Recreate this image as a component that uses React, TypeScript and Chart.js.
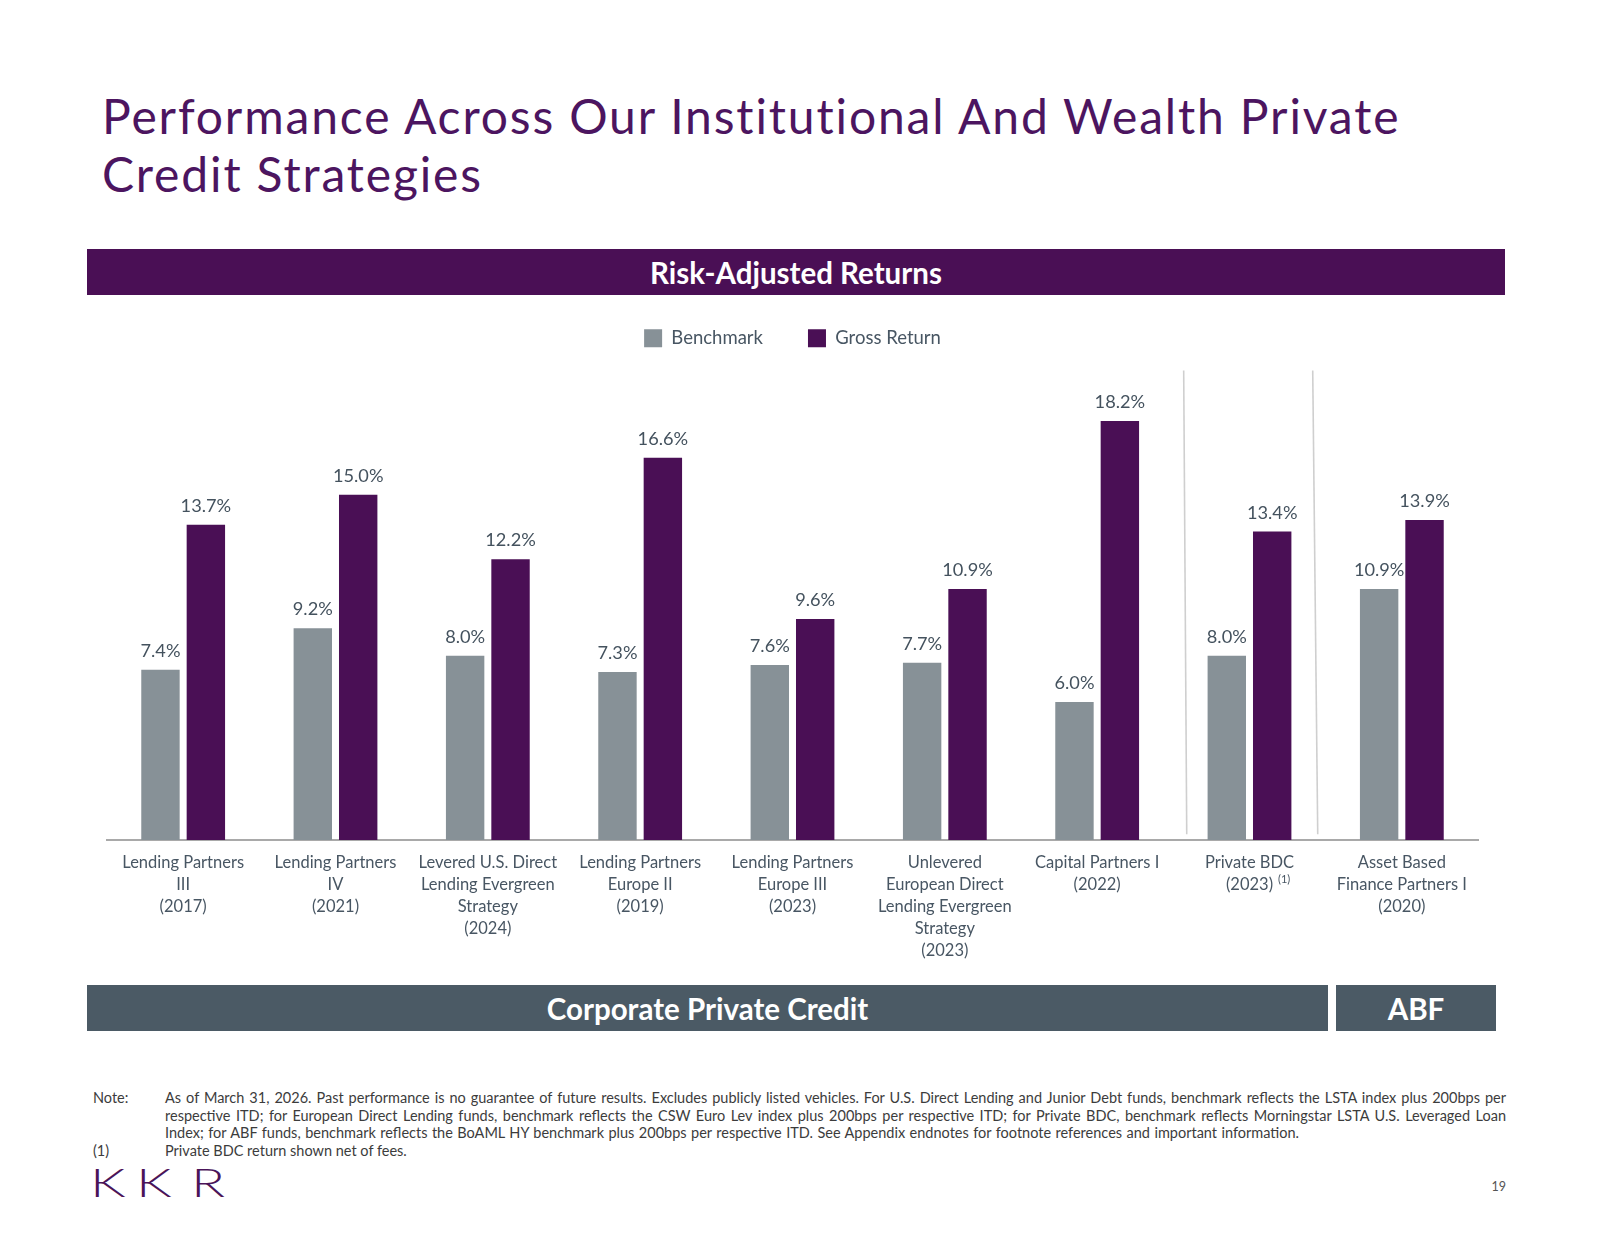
import React, { useEffect, useRef } from 'react';
import { Chart, registerables } from 'chart.js';

Chart.register(...registerables);

// ---------------- DATA ----------------
const categories: string[][] = [
  ['Lending Partners', 'III', '(2017)'],
  ['Lending Partners', 'IV', '(2021)'],
  ['Levered U.S. Direct', 'Lending Evergreen', 'Strategy', '(2024)'],
  ['Lending Partners', 'Europe II', '(2019)'],
  ['Lending Partners', 'Europe III', '(2023)'],
  ['Unlevered', 'European Direct', 'Lending Evergreen', 'Strategy', '(2023)'],
  ['Capital Partners I', '(2022)'],
  ['Private BDC', '(2023)'],
  ['Asset Based', 'Finance Partners I', '(2020)'],
];
const seriesNames = ['Benchmark', 'Gross Return'];
const benchmark = [7.4, 9.2, 8.0, 7.3, 7.6, 7.7, 6.0, 8.0, 10.9];
const grossReturn = [13.7, 15.0, 12.2, 16.6, 9.6, 10.9, 18.2, 13.4, 13.9];
const footnoteCategory = 7;
const footnoteMark = '(1)';

// ---------------- STYLE ----------------
const PURPLE = '#4a0f55';
const TITLE_PURPLE = '#4c1560';
const GRAY = '#879197';
const SLATE = '#4b5a65';
const LABEL = '#485663';
const FONT = 'Lato, "Open Sans", sans-serif';

const valueLabels = {
  id: 'valueLabels',
  afterDatasetsDraw(chart: any) {
    const ctx = chart.ctx;
    ctx.save();
    ctx.font = `18.2px ${FONT}`;
    ctx.fillStyle = '#44525e';
    ctx.textAlign = 'center';
    ctx.textBaseline = 'alphabetic';
    chart.data.datasets.forEach((ds: any, i: number) => {
      const meta = chart.getDatasetMeta(i);
      meta.data.forEach((el: any, j: number) => {
        ctx.fillText(Number(ds.data[j]).toFixed(1) + '%', el.x, el.y - 13);
      });
    });
    ctx.restore();
  },
};

// group separators (in category units): [top, bottom]
const separatorLines = [
  [6.568, 6.588],
  [7.415, 7.448],
];
const separators = {
  id: 'separators',
  beforeDatasetsDraw(chart: any) {
    const ctx = chart.ctx;
    const xs = chart.scales.x;
    const ys = chart.scales.y;
    ctx.save();
    ctx.strokeStyle = '#cfcfcf';
    ctx.lineWidth = 1.6;
    separatorLines.forEach(([t, b]) => {
      ctx.beginPath();
      ctx.moveTo(xs.getPixelForValue(t), ys.getPixelForValue(20.4));
      ctx.lineTo(xs.getPixelForValue(b), ys.getPixelForValue(0.25));
      ctx.stroke();
    });
    ctx.restore();
  },
};

const TICK_SIZE = 16.5;
const TICK_LH = 22;
const TICK_PAD = 12;
const footnote = {
  id: 'footnote',
  afterDraw(chart: any) {
    const ctx = chart.ctx;
    const xs = chart.scales.x;
    const x = xs.getPixelForValue(footnoteCategory);
    const lines = categories[footnoteCategory];
    ctx.save();
    ctx.font = `${TICK_SIZE}px ${FONT}`;
    const w = ctx.measureText(lines[lines.length - 1]).width;
    const y = xs.top + TICK_PAD + TICK_LH / 2 + TICK_LH * (lines.length - 1) - 6;
    ctx.font = `11px ${FONT}`;
    ctx.fillStyle = LABEL;
    ctx.textAlign = 'left';
    ctx.textBaseline = 'middle';
    ctx.fillText(footnoteMark, x + w / 2 + 5, y);
    ctx.restore();
  },
};

const CANVAS_LEFT = 87;
const CANVAS_TOP = 284;
const CANVAS_W = 1418;
const CANVAS_H = 690;

function BarChart() {
  const ref = useRef<HTMLCanvasElement | null>(null);
  useEffect(() => {
    if (!ref.current) return;
    const chart = new Chart(ref.current, {
      type: 'bar',
      data: {
        labels: categories,
        datasets: [
          {
            label: seriesNames[0],
            data: benchmark,
            backgroundColor: GRAY,
            borderWidth: 0,
            categoryPercentage: 0.596,
            barPercentage: 0.846,
          },
          {
            label: seriesNames[1],
            data: grossReturn,
            backgroundColor: PURPLE,
            borderWidth: 0,
            categoryPercentage: 0.596,
            barPercentage: 0.846,
          },
        ],
      },
      options: {
        responsive: false,
        animation: false,
        layout: { padding: { left: 20, right: 27, top: 0, bottom: 0 } },
        plugins: {
          tooltip: { enabled: false },
          legend: {
            display: true,
            position: 'top',
            align: 'center',
            labels: {
              boxWidth: 18,
              boxHeight: 18,
              padding: 45,
              color: LABEL,
              font: { family: FONT, size: 18.5 },
            },
          },
        },
        scales: {
          x: {
            grid: { display: false, drawTicks: false },
            border: { display: true, color: '#a9a9a9', width: 2 },
            ticks: {
              color: LABEL,
              padding: TICK_PAD,
              autoSkip: false,
              maxRotation: 0,
              minRotation: 0,
              font: { family: FONT, size: TICK_SIZE, lineHeight: TICK_LH / TICK_SIZE },
            },
          },
          y: {
            display: false,
            min: 0,
            max: 20.96,
          },
        },
      },
      plugins: [separators, valueLabels, footnote],
    });
    return () => chart.destroy();
  }, []);
  return (
    <canvas
      ref={ref}
      width={CANVAS_W}
      height={CANVAS_H}
      style={{ position: 'absolute', left: CANVAS_LEFT, top: CANVAS_TOP, width: CANVAS_W, height: CANVAS_H }}
    />
  );
}

const noteLines = [
  'As of March 31, 2026. Past performance is no guarantee of future results. Excludes publicly listed vehicles. For U.S. Direct Lending and Junior Debt funds, benchmark reflects the LSTA index plus 200bps per',
  'respective ITD; for European Direct Lending funds, benchmark reflects the CSW Euro Lev index plus 200bps per respective ITD; for Private BDC, benchmark reflects Morningstar LSTA U.S. Leveraged Loan',
  'Index; for ABF funds, benchmark reflects the BoAML HY benchmark plus 200bps per respective ITD. See Appendix endnotes for footnote references and important information.',
];
const footnoteText = 'Private BDC return shown net of fees.';
const logoLetters = ['K', 'K', 'R'];
const logoLefts = [90, 136, 191];

export default function App() {
  const abs = (s: React.CSSProperties): React.CSSProperties => ({ position: 'absolute', ...s });
  const NOTE_LH = 17.7;
  const NOTE_TOP = 1089;
  const NOTE_SIZE = 14.5;
  const band: React.CSSProperties = {
    color: '#fff',
    fontWeight: 700,
    fontSize: 29.5,
    display: 'flex',
    alignItems: 'center',
    justifyContent: 'center',
    height: 46,
  };
  return (
    <div
      style={{
        position: 'absolute',
        left: 0,
        top: 0,
        width: 1600,
        height: 1237,
        background: '#ffffff',
        fontFamily: FONT,
        overflow: 'hidden',
      }}
    >
      <div
        style={abs({
          left: 102,
          top: 87,
          fontSize: 48,
          lineHeight: '58px',
          letterSpacing: 1.85,
          color: TITLE_PURPLE,
          width: 1480,
          whiteSpace: 'nowrap',
        })}
      >
        Performance Across Our Institutional And Wealth Private
        <br />
        Credit Strategies
      </div>
      <div style={abs({ ...band, left: 87, top: 249, width: 1418, background: PURPLE })}>Risk-Adjusted Returns</div>
      <BarChart />
      <div style={abs({ ...band, left: 87, top: 985, width: 1241, background: SLATE })}>Corporate Private Credit</div>
      <div style={abs({ ...band, left: 1336, top: 985, width: 160, background: SLATE })}>ABF</div>
      <div style={abs({ left: 93, top: NOTE_TOP, fontSize: NOTE_SIZE, lineHeight: `${NOTE_LH}px`, color: '#3c3c3c' })}>Note:</div>
      {noteLines.map((t, i) => (
        <div
          key={i}
          style={abs({
            left: 165,
            top: NOTE_TOP + i * NOTE_LH,
            width: 1341,
            fontSize: NOTE_SIZE,
            lineHeight: `${NOTE_LH}px`,
            color: '#3c3c3c',
            textAlign: 'justify',
            textAlignLast: i < 2 ? 'justify' : 'left',
            wordSpacing: i < 2 ? 0 : 0.75,
          })}
        >
          {t}
        </div>
      ))}
      <div style={abs({ left: 93, top: NOTE_TOP + 3 * NOTE_LH, fontSize: NOTE_SIZE, lineHeight: `${NOTE_LH}px`, color: '#3c3c3c' })}>(1)</div>
      <div style={abs({ left: 165, top: NOTE_TOP + 3 * NOTE_LH, fontSize: NOTE_SIZE, lineHeight: `${NOTE_LH}px`, color: '#3c3c3c' })}>
        {footnoteText}
      </div>
      {logoLetters.map((ch, i) => (
        <div
          key={i}
          style={abs({
            left: logoLefts[i],
            top: 1160,
            fontSize: 39.5,
            lineHeight: '44px',
            fontWeight: 300,
            color: '#4a1459',
            transform: 'scaleX(1.42)',
            transformOrigin: 'left center',
          })}
        >
          {ch}
        </div>
      ))}
      <div style={abs({ right: 94, top: 1179, fontSize: 12.5, lineHeight: '16px', color: '#555' })}>19</div>
    </div>
  );
}
